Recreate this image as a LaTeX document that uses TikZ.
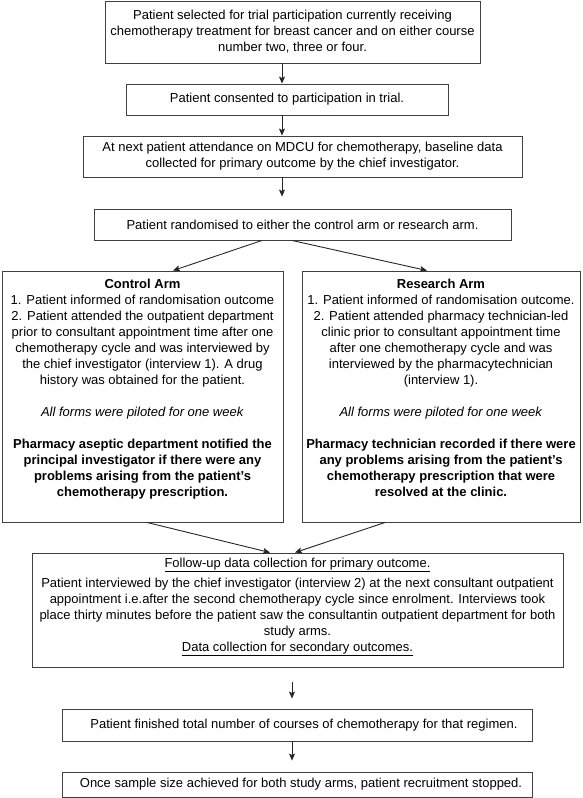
\documentclass[tikz,border=0pt]{standalone}
\usepackage{fontspec}
\setmainfont{Liberation Sans}
\usetikzlibrary{arrows.meta}
\tikzset{
  box/.style={draw=black!75, line width=0.9pt, inner sep=0pt, align=center,
    font=\fontsize{13}{16}\selectfont},
  arr/.style={draw=black!85, line width=0.9pt, -{Stealth[length=7pt,width=6pt,inset=1.5pt]}}
}
\newcommand{\tbox}[4]{\parbox[c][#2][t]{#1}{\centering\vspace*{#3}\strut #4\par}}
\begin{document}
\begin{tikzpicture}[x=1pt,y=-1pt]
\useasboundingbox (0,0) rectangle (583,798);
\node[box, minimum width=375pt, minimum height=62pt] (box1) at (292.5,32)
  {Patient selected for trial participation currently receiving\\
   chemotherapy treatment for breast cancer and on either course\\
   number two, three or four.};
\node[box, minimum width=322pt, minimum height=31pt] (box2) at (287,99.5)
  {Patient consented to participation in trial.};
\node[box, minimum width=439pt, minimum height=41pt] (box3) at (302.5,156.5)
  {At next patient attendance on MDCU for chemotherapy, baseline data\\
   collected for primary outcome by the chief investigator.};
\node[box, minimum width=417pt, minimum height=31pt] (box4) at (302.5,224.5)
  {Patient randomised to either the control arm or research arm.};
\node[box] (control) at (142.5,396.5)
  {\tbox{281pt}{251pt}{5.8pt}{\textbf{Control Arm}\\
   1. Patient informed of randomisation outcome\\
   2. Patient attended the outpatient department\\
   prior to consultant appointment time after one\\
   chemotherapy cycle and was interviewed by\\
   the chief investigator (interview 1). A drug\\
   history was obtained for the patient.\\[16pt]
   \textit{All forms were piloted for one week}\\[16pt]
   \textbf{Pharmacy aseptic department notified the}\\
   \textbf{principal investigator if there were any}\\
   \textbf{problems arising from the patient’s}\\
   \textbf{chemotherapy prescription.}}};
\node[box] (research) at (441,396.5)
  {\tbox{278pt}{251pt}{5.8pt}{\textbf{Research Arm}\\
   1. Patient informed of randomisation outcome.\\
   2. Patient attended pharmacy technician-led\\
   clinic prior to consultant appointment time\\
   after one chemotherapy cycle and was\\
   interviewed by the pharmacytechnician\\
   (interview 1).\\[16pt]
   \textit{All forms were piloted for one week}\\[16pt]
   \textbf{Pharmacy technician recorded if there were}\\
   \textbf{any problems arising from the patient’s}\\
   \textbf{chemotherapy prescription that were}\\
   \textbf{resolved at the clinic.}}};
\node[box] (followup) at (297.5,610)
  {\tbox{531pt}{114pt}{3pt}{\underline{Follow-up data collection for primary outcome.}\\[4pt]
   Patient interviewed by the chief investigator (interview 2) at the next consultant outpatient\\
   appointment i.e.after the second chemotherapy cycle since enrolment. Interviews took\\
   place thirty minutes before the patient saw the consultantin outpatient department for both\\
   study arms.\\
   \underline{Data collection for secondary outcomes.}}};
\node[box, minimum width=470pt, minimum height=32pt] (finished) at (297,725)
  {\hspace*{14pt}Patient finished total number of courses of chemotherapy for that regimen.};
\node[box, minimum width=470pt, minimum height=25pt] (last) at (297,784.5)
  {\hspace*{8pt}Once sample size achieved for both study arms, patient recruitment stopped.};
\coordinate (ax) at (282,0);
\coordinate (bx) at (292,0);
\draw[arr] (box1.south -| ax) -- (box2.north -| ax);
\draw[arr] (box2.south -| ax) -- (box3.north -| ax);
\draw[arr, shorten >=12pt] (box3.south -| ax) -- (box4.north -| ax);
\draw[arr] ([xshift=-40.5pt]box4.south) -- ([xshift=30.5pt]control.north);
\draw[arr] ([xshift=-10.5pt]box4.south) -- ([xshift=-14pt]research.north);
\draw[arr] ([xshift=4.5pt]control.south) -- ([xshift=-27.5pt]followup.north);
\draw[arr] ([xshift=-56pt]research.south) -- ([xshift=-2.5pt]followup.north);
\draw[arr, shorten <=15pt, shorten >=10pt] (followup.south -| bx) -- (finished.north -| bx);
\draw[arr, shorten >=11pt] (finished.south -| bx) -- (last.north -| bx);
\end{tikzpicture}
\end{document}
